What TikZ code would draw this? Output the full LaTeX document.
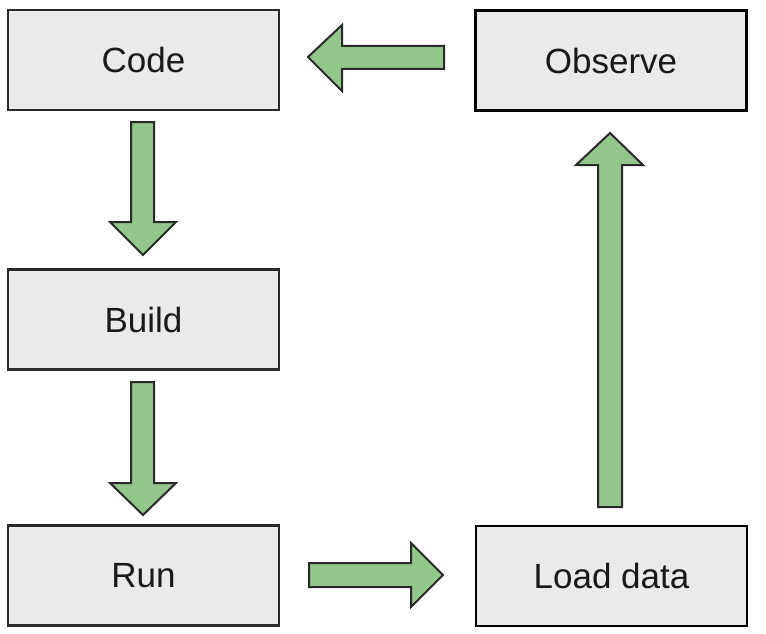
\documentclass[tikz,border=0pt]{standalone}
\usepackage{fontspec}
\setmainfont{Liberation Sans}
\definecolor{boxfill}{HTML}{E9EAEC}
\definecolor{arrowfill}{HTML}{93C68A}
\definecolor{edge}{HTML}{2A2A2A}
\begin{document}
\begin{tikzpicture}[x=1pt,y=-1pt,
  stagebox/.style={draw=edge, line width=2.2pt, fill=boxfill, minimum width=271pt, minimum height=100pt, inner sep=0pt, font=\fontsize{35}{40}\selectfont, text=black!90},
  darkbox/.style={stagebox, draw=black, line width=2.8pt},
  blockarrow/.style={draw=edge, line width=2pt, fill=arrowfill, line join=miter}]
\useasboundingbox (0,0) rectangle (766,634);
\node[stagebox] (code) at (143.5,60) {Code};
\node[darkbox] (observe) at (611,60.5) {Observe};
\node[stagebox] (build) at (143.5,319.5) {Build};
\node[stagebox] (run) at (143.5,575.5) {Run};
\node[darkbox] (load) at (611.5,576) {Load data};
% Code -> Build
\draw[blockarrow] (131,122) -- (154,122) -- (154,222) -- (176,222) -- (143,255) -- (110,222) -- (131,222) -- cycle;
% Build -> Run
\draw[blockarrow] (131,382) -- (154,382) -- (154,483) -- (176,483) -- (143,515) -- (110,483) -- (131,483) -- cycle;
% Run -> Load data
\draw[blockarrow] (309,563) -- (411,563) -- (411,543) -- (443,575) -- (411,607) -- (411,587) -- (309,587) -- cycle;
% Load data -> Observe
\draw[blockarrow] (598,507) -- (598,165) -- (576,165) -- (610,133) -- (643,165) -- (622,165) -- (622,507) -- cycle;
% Observe -> Code
\draw[blockarrow] (444,46) -- (342,46) -- (342,25) -- (308,57) -- (342,91) -- (342,69) -- (444,69) -- cycle;
\end{tikzpicture}
\end{document}
